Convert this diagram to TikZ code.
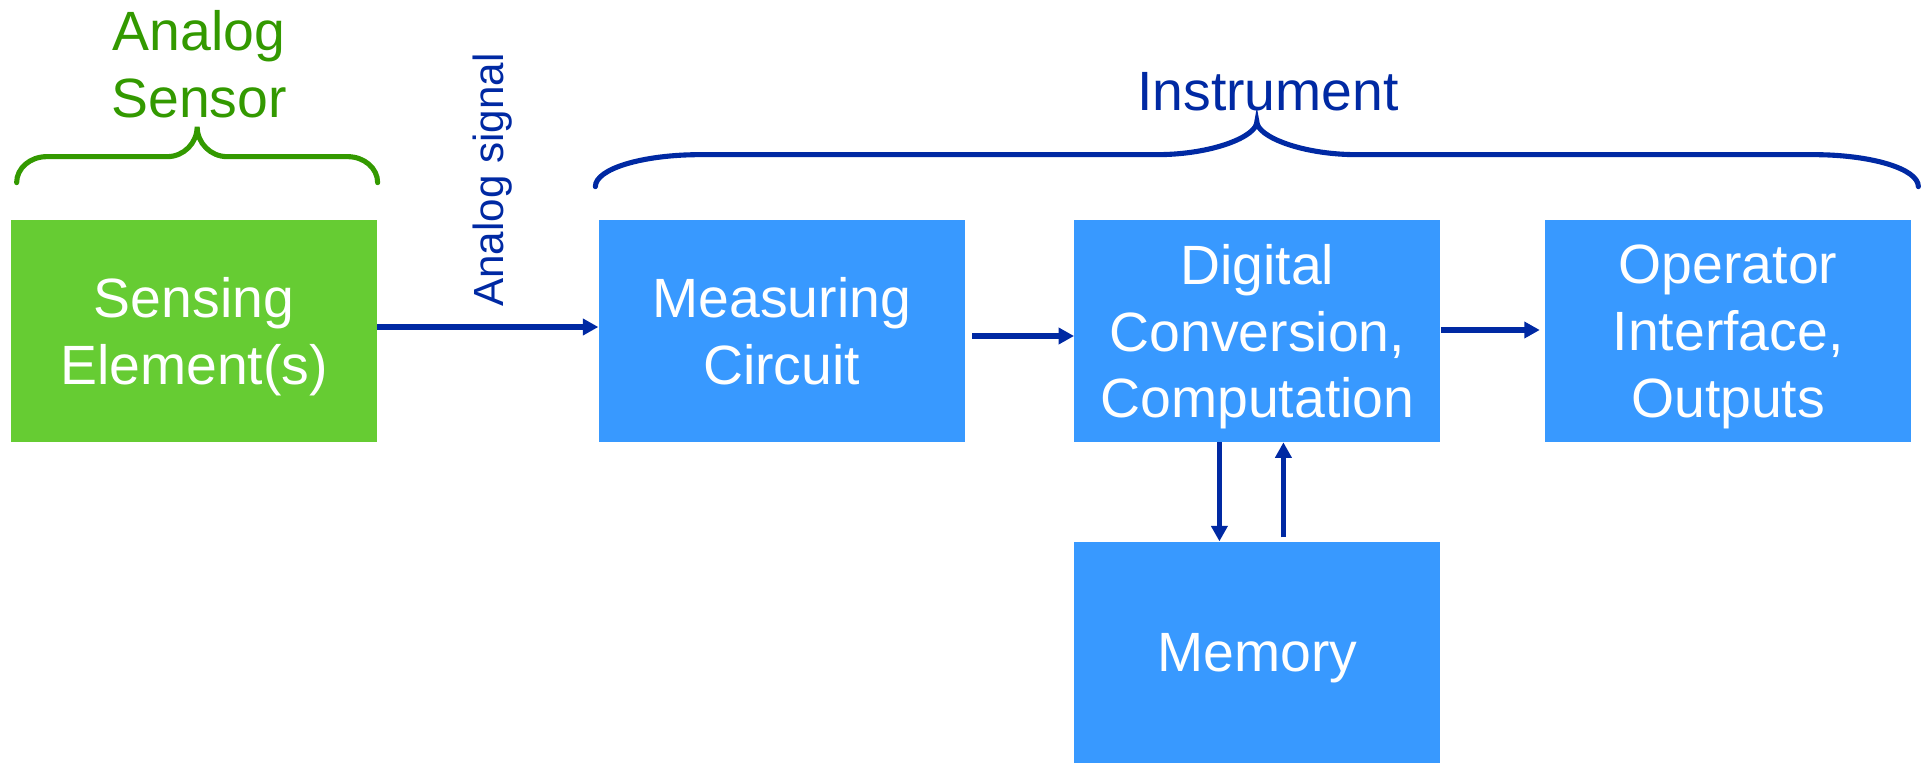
\documentclass[tikz,border=0pt]{standalone}
\usepackage{fontspec}
\setmainfont{Liberation Sans}
\usetikzlibrary{arrows.meta,positioning}

\definecolor{sensegreen}{HTML}{66CC33}
\definecolor{boxblue}{HTML}{3899FF}
\definecolor{lineblue}{HTML}{0029A3}
\definecolor{labelgreen}{HTML}{339900}

\begin{document}
\begin{tikzpicture}[>={Triangle[length=0.31cm,width=0.32cm]},
    block/.style={rectangle, fill=boxblue, text=white, minimum width=7.32cm,
        minimum height=4.44cm, inner sep=0pt, text depth=0pt, align=center,
        font={\fontsize{31.5}{38}\selectfont}},
    title/.style={inner sep=0pt, font={\fontsize{31.5}{38}\selectfont}},
    flow/.style={->, draw=lineblue, line width=2.9pt},
    curly/.style={line width=2.9pt, line cap=round}]
    \useasboundingbox (0,0) rectangle (38.48,-15.24);

    % Blocks {sense, meas, digit, oper, mem}
    \node [block, fill=sensegreen] (sense) at (3.88,-6.62)      {Sensing\\Element(s)};
    \node [block]                  (meas)  [right=4.42cm of sense] {Measuring\\Circuit};
    \node [block]                  (digit) [right=2.18cm of meas]  {Digital\\Conversion,\\Computation};
    \node [block]                  (oper)  [right=2.08cm of digit] {Operator\\Interface,\\Outputs};
    \node [block]                  (mem)   [below=1.98cm of digit] {Memory};

    % Labels
    \node [title, text=labelgreen, align=center, anchor=south] (sensor) at (3.98,-2.36) {Analog\\Sensor};
    \node [title, text=lineblue, anchor=base]                  (instr)  at (25.36,-2.2) {Instrument};
    \node [inner sep=0pt, text=lineblue, rotate=90, anchor=base,
           font={\fontsize{24}{29}\selectfont}]                (signal) at (10.06,-3.6) {Analog signal};

    % Braces
    \draw [curly, labelgreen] ([shift={(0.12,0.74)}]sense.north west)
        .. controls +(0,0.29) and +(-0.33,0) .. ++(0.6,0.52) -- ++(2.41,0)
        .. controls +(0.33,0) and +(0,-0.33) .. ++(0.6,0.6)
        .. controls +(0,-0.33) and +(-0.33,0) .. ++(0.6,-0.6) -- ++(2.41,0)
        .. controls +(0.33,0) and +(0,0.29) .. ++(0.6,-0.52);
    \draw [curly, lineblue] ([shift={(-0.06,0.66)}]meas.north west)
        .. controls +(0,0.36) and +(-1.15,0) .. ++(2.1,0.64) -- ++(9.13,0)
        .. controls +(1.1,0) and +(0,-0.3) .. ++(2.0,0.66)
        .. controls +(0,-0.3) and +(-1.1,0) .. ++(2.0,-0.66) -- ++(9.13,0)
        .. controls +(1.15,0) and +(0,0.36) .. ++(2.1,-0.64);

    % Paths
    \path ([yshift=0.08cm]sense.east)   edge [flow]                    ([yshift=0.08cm]meas.west);
    \path ([yshift=-0.1cm]meas.east)    edge [flow, shorten <=0.14cm]  ([yshift=-0.1cm]digit.west);
    \path ([yshift=0.02cm]digit.east)   edge [flow, shorten >=0.1cm]   ([yshift=0.02cm]oper.west);
    \path ([xshift=-0.76cm]digit.south) edge [flow]                    ([xshift=-0.76cm]mem.north);
    \path ([xshift=0.52cm]mem.north)    edge [flow, shorten <=0.08cm]  ([xshift=0.52cm]digit.south);

\end{tikzpicture}
\end{document}
